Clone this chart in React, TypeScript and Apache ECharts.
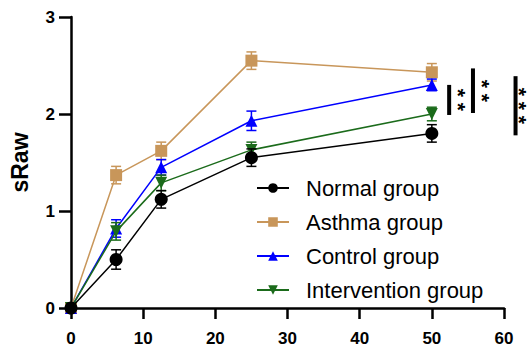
import React, { useEffect, useRef } from "react";
import * as echarts from "echarts";

const xValues = [0, 6.25, 12.5, 25, 50];
const seriesNames = ["Normal group", "Asthma group", "Control group", "Intervention group"];
const normalMean = [0, 0.5, 1.12, 1.55, 1.8];
const normalErr = [0, 0.1, 0.09, 0.09, 0.09];
const asthmaMean = [0, 1.37, 1.62, 2.55, 2.43];
const asthmaErr = [0, 0.09, 0.09, 0.09, 0.09];
const controlMean = [0, 0.82, 1.45, 1.93, 2.3];
const controlErr = [0, 0.09, 0.08, 0.1, 0.06];
const interventionMean = [0, 0.79, 1.29, 1.63, 2.0];
const interventionErr = [0, 0.09, 0.08, 0.08, 0.07];
const xTicks = [0, 10, 20, 30, 40, 50, 60];
const yTicks = [0, 1, 2, 3];
// significance brackets: x position, y from, y to, stars
const sigX = [52.4, 55.7, 61.6];
const sigFrom = [2.3, 2.47, 2.39];
const sigTo = [1.99, 2.01, 1.78];
const sigLabels = ["* *", "* *", "* * *"];

const colors = ["#000000", "#C8965A", "#0000FF", "#1B6B1B"];
const symbols = ["circle", "rect", "triangle", "path://M0,0 L10,0 L5,9 Z"];
const FONT = "Arial, 'Liberation Sans', sans-serif";

export default function App() {
  const ref = useRef<HTMLDivElement>(null);
  useEffect(() => {
    if (!ref.current) return;
    const chart = echarts.init(ref.current, undefined, { renderer: "svg" });
    const means = [normalMean, asthmaMean, controlMean, interventionMean];
    const errs = [normalErr, asthmaErr, controlErr, interventionErr];
    const zOrder = [6, 3, 4, 5];

    const lineSeries = seriesNames.map((name, i) => ({
      name,
      type: "line",
      data: xValues.map((x, j) => [x, means[i][j]]),
      symbol: symbols[i],
      symbolSize: i === 0 ? 13 : 12,
      showAllSymbol: true,
      clip: false,
      z: zOrder[i],
      lineStyle: { color: colors[i], width: 1.5 },
      itemStyle: { color: colors[i] },
    }));

    const errSeries = seriesNames.map((name, i) => ({
      name: name + " err",
      type: "custom",
      clip: false,
      z: zOrder[i],
      data: xValues.map((x, j) => [x, means[i][j] - errs[i][j], means[i][j] + errs[i][j]]),
      renderItem: (params: any, api: any) => {
        const x = api.value(0);
        const lo = api.coord([x, api.value(1)]);
        const hi = api.coord([x, api.value(2)]);
        const w = 5;
        const style = { stroke: colors[i], lineWidth: 1.5 };
        return {
          type: "group",
          children: [
            { type: "line", shape: { x1: lo[0], y1: lo[1], x2: hi[0], y2: hi[1] }, style },
            { type: "line", shape: { x1: lo[0] - w, y1: lo[1], x2: lo[0] + w, y2: lo[1] }, style },
            { type: "line", shape: { x1: hi[0] - w, y1: hi[1], x2: hi[0] + w, y2: hi[1] }, style },
          ],
        };
      },
    }));

    const sigSeries = {
      name: "sig",
      type: "custom",
      clip: false,
      z: 7,
      data: sigX.map((x, k) => [x, sigFrom[k], sigTo[k], k]),
      renderItem: (params: any, api: any) => {
        const x = api.value(0);
        const a = api.coord([x, api.value(1)]);
        const b = api.coord([x, api.value(2)]);
        const k = api.value(3);
        const mid = (a[1] + b[1]) / 2;
        const off = Math.min(20, 530 - a[0]);
        return {
          type: "group",
          children: [
            { type: "rect", shape: { x: a[0] - 2, y: a[1], width: 4, height: b[1] - a[1] }, style: { fill: "#000" } },
            {
              type: "text",
              x: a[0] + off,
              y: mid,
              rotation: -Math.PI / 2,
              style: {
                text: sigLabels[k],
                x: 0,
                y: 0,
                fill: "#000",
                font: "bold 21px " + FONT,
                align: "center",
                verticalAlign: "top",
              },
            },
          ],
        };
      },
    };

    chart.setOption({
      animation: false,
      backgroundColor: "#ffffff",
      grid: { left: 69, right: 27, top: 17, bottom: 42, containLabel: false },
      legend: {
        data: seriesNames,
        orient: "vertical",
        left: 251,
        top: 172,
        itemWidth: 32,
        itemHeight: 12,
        itemGap: 12,
        textStyle: {
          fontSize: 22,
          color: "#000",
          fontFamily: FONT,
          padding: [0, 0, 0, 12],
        },
      },
      xAxis: {
        type: "value",
        min: 0,
        max: 60,
        interval: 10,
        splitLine: { show: false },
        axisLine: { lineStyle: { color: "#000", width: 2.5 } },
        axisTick: { length: 11, lineStyle: { color: "#000", width: 2.5 } },
        axisLabel: {
          margin: 22,
          color: "#000",
          fontSize: 17,
          fontWeight: "bold",
          fontFamily: FONT,
          formatter: (v: number) => (xTicks.includes(v) ? String(v) : ""),
        },
      },
      yAxis: {
        type: "value",
        min: 0,
        max: 3,
        interval: 1,
        name: "sRaw",
        nameLocation: "middle",
        nameGap: 40,
        nameTextStyle: {
          fontSize: 23,
          fontWeight: "bold",
          color: "#000",
          fontFamily: FONT,
        },
        splitLine: { show: false },
        axisLine: { lineStyle: { color: "#000", width: 2.5 } },
        axisTick: { length: 12, lineStyle: { color: "#000", width: 2.5 } },
        axisLabel: {
          margin: 16,
          color: "#000",
          fontSize: 17,
          fontWeight: "bold",
          fontFamily: FONT,
          formatter: (v: number) => (yTicks.includes(v) ? String(v) : ""),
        },
      },
      series: [...errSeries, ...lineSeries, sigSeries],
    });
    return () => chart.dispose();
  }, []);
  return <div ref={ref} style={{ width: 531, height: 350, position: "absolute", left: 0, top: 0 }} />;
}
